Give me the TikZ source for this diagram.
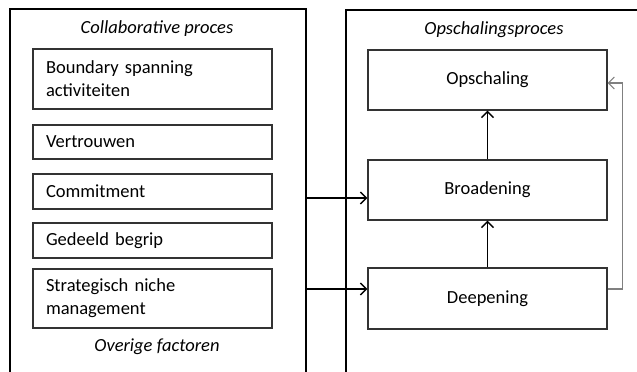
\documentclass[tikz,border=0pt]{standalone}
\usepackage{fontspec}
\setmainfont{Carlito}
\usetikzlibrary{arrows.meta}

\begin{document}
\begin{tikzpicture}[x=1pt,y=-1pt,
    font=\fontsize{18.5}{23}\selectfont,
    frame/.style={draw,line width=1.5pt,inner sep=0pt},
    factor/.style={draw=black!80,line width=1.1pt,text width=213pt,inner xsep=13pt,inner ysep=0pt,align=left},
    phase/.style={draw=black!80,line width=1.1pt,minimum width=239pt,inner sep=0pt},
    arr/.style={line width=1.4pt,-{Straight Barb[length=6pt,width=12pt]}}]
    \useasboundingbox (0,0) rectangle (637,372);
    \clip (0,0) rectangle (637,372);
    %outer frames, open at the bottom and right
    \node[frame,minimum width=296pt,minimum height=391pt] (collab) at (158,204.5) {};
    \node[frame,minimum width=334pt,minimum height=390pt] (opsch) at (513,205) {};
    \node[font=\fontsize{18.5}{23}\selectfont\itshape] (collabtitle) at (157,29) {Collaborative proces};
    \node[font=\fontsize{18.5}{23}\selectfont\itshape] (overig) at (157,347) {Overige factoren};
    \node[font=\fontsize{18.5}{23}\selectfont\itshape] (opschtitle) at (494,30) {Opschalingsproces};
    %factors of the collaborative process
    \node[factor,minimum height=60pt] (boundary) at (152.5,79) {Boundary spanning\\activiteiten};
    \node[factor,minimum height=34pt] (vertrouwen) at (152.5,142) {Vertrouwen};
    \node[factor,minimum height=35pt] (commitment) at (152.5,191.5) {Commitment};
    \node[factor,minimum height=35pt] (begrip) at (152.5,240.5) {Gedeeld begrip};
    \node[factor,minimum height=59pt] (niche) at (152.5,298.5) {Strategisch niche\\management};
    %phases of upscaling
    \node[phase,minimum height=60pt] (ops) at (487.5,80) {Opschaling};
    \node[phase,minimum height=60pt] (bro) at (487.5,190) {Broadening};
    \node[phase,minimum height=61pt] (dee) at (487.5,298.5) {Deepening};
    \draw[arr] (collab.east |- 0,198) -- ([yshift=-8pt]bro.west);
    \draw[arr] (collab.east |- 0,289) -- ([yshift=9.5pt]dee.west);
    \draw[arr] (dee.north) -- (bro.south);
    \draw[arr] (bro.north) -- (ops.south);
    \draw[arr,black!50,line width=1.1pt] ([yshift=9.5pt]dee.east) -- ++(15,0) |- ([yshift=-3pt]ops.east);
\end{tikzpicture}
\end{document}
